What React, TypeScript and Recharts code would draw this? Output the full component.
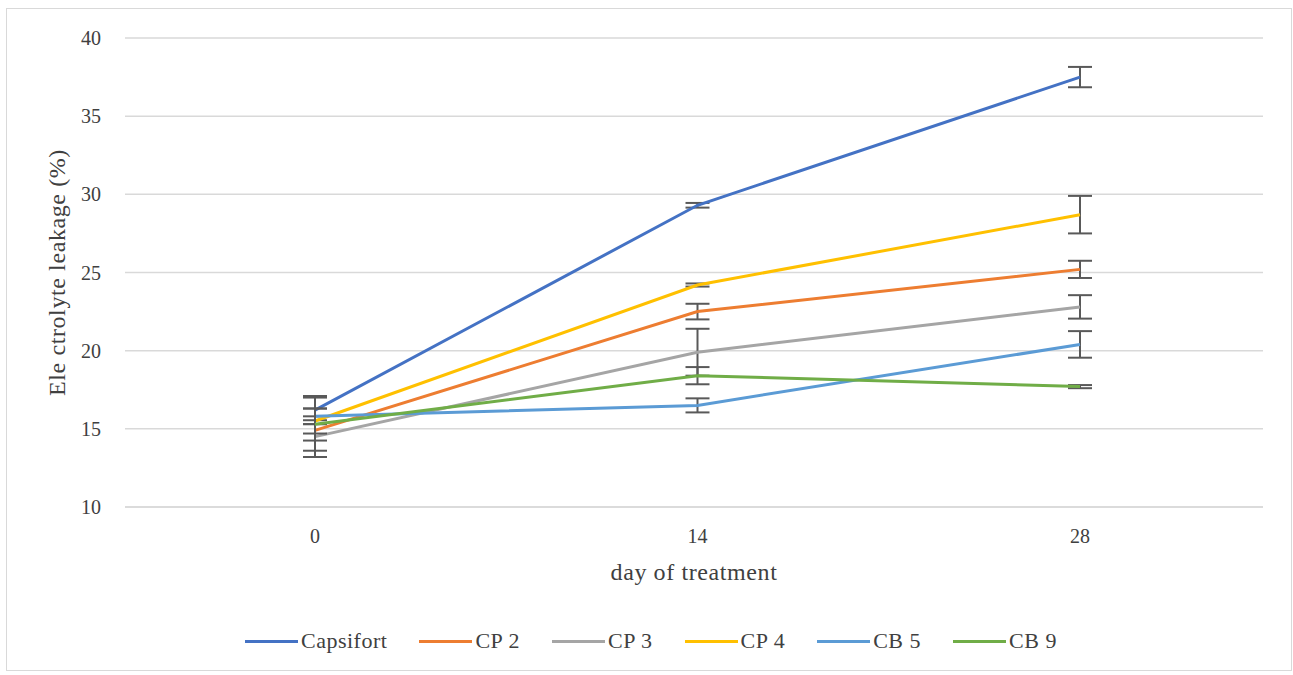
import React from 'react'
import { LineChart, Line, XAxis, YAxis, CartesianGrid, ErrorBar } from 'recharts'

const days = ['0', '14', '28']
const yTicks = [10, 15, 20, 25, 30, 35, 40]

const capsifort = [16.2, 29.3, 37.5]
const capsifortErr = [0.9, 0.15, 0.65]
const cp2 = [14.9, 22.5, 25.2]
const cp2Err = [0.65, 0.5, 0.55]
const cp3 = [14.5, 19.9, 22.8]
const cp3Err = [1.3, 1.5, 0.75]
const cp4 = [15.5, 24.2, 28.7]
const cp4Err = [0.8, 0.1, 1.2]
const cb5 = [15.8, 16.5, 20.4]
const cb5Err = [0.5, 0.45, 0.85]
const cb9 = [15.3, 18.4, 17.7]
const cb9Err = [1.7, 0.55, 0.1]

const series = [
  { key: 'capsifort', name: 'Capsifort', color: '#4472C4', values: capsifort, err: capsifortErr },
  { key: 'cp2', name: 'CP 2', color: '#ED7D31', values: cp2, err: cp2Err },
  { key: 'cp3', name: 'CP 3', color: '#A5A5A5', values: cp3, err: cp3Err },
  { key: 'cp4', name: 'CP 4', color: '#FFC000', values: cp4, err: cp4Err },
  { key: 'cb5', name: 'CB 5', color: '#5B9BD5', values: cb5, err: cb5Err },
  { key: 'cb9', name: 'CB 9', color: '#70AD47', values: cb9, err: cb9Err },
]

const data = days.map((day, i) => {
  const row: any = { day }
  series.forEach((s) => {
    row[s.key] = s.values[i]
    row[s.key + 'Err'] = s.err[i]
  })
  return row
})

const FONT = '"Liberation Serif", "Times New Roman", serif'
const TEXT = '#404040'

const renderYLabel = (props: any) => {
  const { viewBox } = props
  const x = viewBox.x + 58
  const y = viewBox.y + viewBox.height / 2
  return (
    <text x={x} y={y} textAnchor="middle" transform={`rotate(-90, ${x}, ${y})`}
      fontFamily={FONT} fontSize={24} letterSpacing={0.6} fill={TEXT}>
      Ele ctrolyte leakage (%)
    </text>
  )
}

const renderXLabel = (props: any) => {
  const { viewBox } = props
  return (
    <text x={viewBox.x + viewBox.width / 2} y={viewBox.y + 73} textAnchor="middle"
      fontFamily={FONT} fontSize={24} letterSpacing={0.6} fill={TEXT}>
      day of treatment
    </text>
  )
}

export default function App() {
  return (
    <div style={{
      position: 'absolute', left: 6, top: 8, width: 1286, height: 663,
      border: '1px solid #d9d9d9', boxSizing: 'border-box', background: '#fff',
    }}>
      <LineChart width={1284} height={661} data={data}
        margin={{ top: 29, right: 28, bottom: 83, left: 0 }}>
        <CartesianGrid vertical={false} stroke="#d9d9d9" strokeWidth={1.5} />
        <XAxis dataKey="day" padding={{ left: 190, right: 183 }} height={80}
          tickLine={false} axisLine={{ stroke: '#d9d9d9', strokeWidth: 1.5 }} tickMargin={16}
          tick={{ fontFamily: FONT, fontSize: 20, fill: TEXT }}
          label={{ content: renderXLabel }} />
        <YAxis domain={[10, 40]} ticks={yTicks} width={118} interval={0}
          tickLine={false} axisLine={false} tickMargin={18}
          tick={{ fontFamily: FONT, fontSize: 20, fill: TEXT }}
          label={{ content: renderYLabel }} />
        {series.map((s) => (
          <Line key={s.key} dataKey={s.key} name={s.name} stroke={s.color} strokeWidth={3}
            dot={false} activeDot={false} isAnimationActive={false}>
            <ErrorBar dataKey={s.key + 'Err'} width={12} stroke="#595959" strokeWidth={2}
              direction="y" isAnimationActive={false} />
          </Line>
        ))}
      </LineChart>
      <div style={{
        position: 'absolute', left: 238, top: 619, display: 'flex', alignItems: 'center',
        fontFamily: FONT, fontSize: 22, letterSpacing: 0.5, color: TEXT, whiteSpace: 'nowrap',
      }}>
        {series.map((s) => (
          <div key={s.key} style={{ display: 'flex', alignItems: 'center', marginRight: 32 }}>
            <span style={{ display: 'inline-block', width: 53, height: 3, background: s.color, marginRight: 3 }} />
            <span>{s.name}</span>
          </div>
        ))}
      </div>
    </div>
  )
}
